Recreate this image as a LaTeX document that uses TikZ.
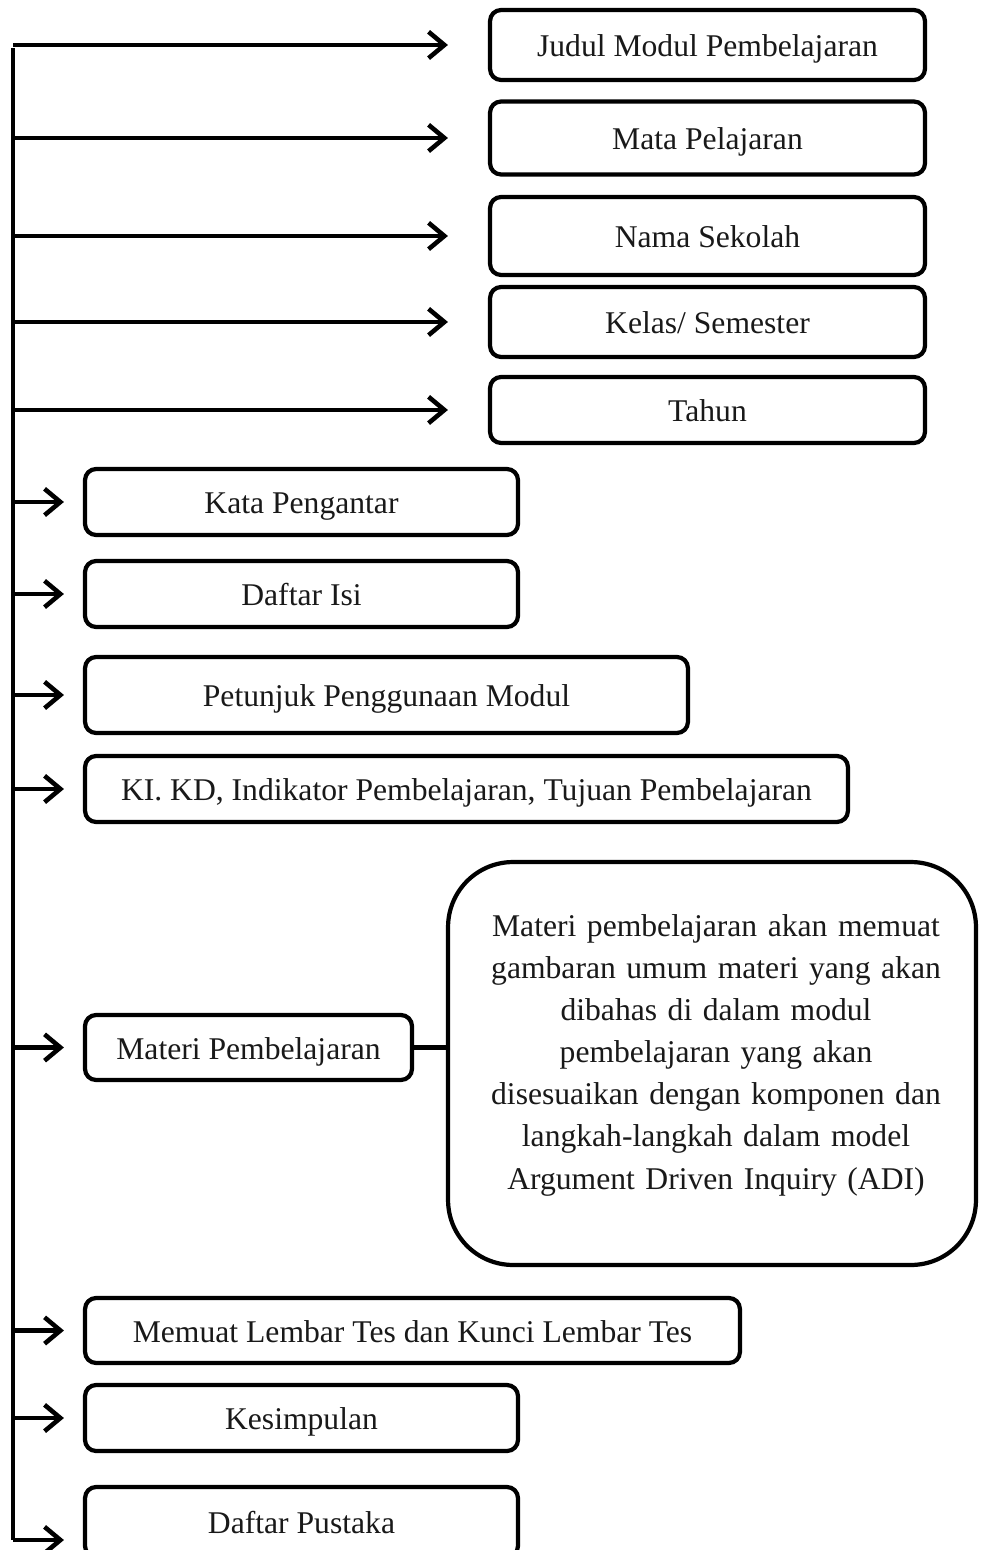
\documentclass[tikz,border=0pt]{standalone}
\usepackage{fontspec}
\setmainfont{Liberation Serif}
\usetikzlibrary{arrows.meta,calc}
\begin{document}
\begin{tikzpicture}[x=0.02cm,y=-0.02cm,
  box/.style={draw=black,line width=2.4pt,rounded corners=0.22cm,fill=white,
    inner sep=0pt,font=\fontsize{18}{22}\selectfont,text=black!90,
    text height=13.6pt,text depth=0pt},
  bigbox/.style={draw=black,line width=2.4pt,rounded corners=1.3cm,fill=white,
    minimum width=10.56cm,minimum height=8.06cm,inner sep=0pt},
  arr/.style={line width=2.8pt,-{Straight Barb[length=9pt,width=15pt,line width=2.6pt]}},
  ln/.style={line width=2.8pt}]
\useasboundingbox (0,0) rectangle (980,1550);
\fill[white] (0,0) rectangle (980,1550);
% right column boxes
\node[box,minimum width=8.7cm,minimum height=1.4cm] (b1) at (707.5,45) {Judul Modul Pembelajaran};
\node[box,minimum width=8.7cm,minimum height=1.46cm] (b2) at (707.5,138) {Mata Pelajaran};
\node[box,minimum width=8.7cm,minimum height=1.56cm] (b3) at (707.5,236) {Nama Sekolah};
\node[box,minimum width=8.7cm,minimum height=1.4cm] (b4) at (707.5,322) {Kelas/ Semester};
\node[box,minimum width=8.7cm,minimum height=1.32cm] (b5) at (707.5,410) {Tahun};
% left column boxes
\node[box,minimum width=8.66cm,minimum height=1.32cm] (k1) at (301.5,502) {Kata Pengantar};
\node[box,minimum width=8.66cm,minimum height=1.32cm] (k2) at (301.5,594) {Daftar Isi};
\node[box,minimum width=12.06cm,minimum height=1.52cm] (k3) at (386.5,695) {Petunjuk Penggunaan Modul};
\node[box,minimum width=15.26cm,minimum height=1.32cm] (k4) at (466.5,789) {KI. KD, Indikator Pembelajaran, Tujuan Pembelajaran};
\node[box,minimum width=6.54cm,minimum height=1.3cm] (k5) at (248.5,1047.5) {Materi Pembelajaran};
\node[box,minimum width=13.1cm,minimum height=1.3cm] (k6) at (412.5,1330.5) {Memuat Lembar Tes dan Kunci Lembar Tes};
\node[box,minimum width=8.66cm,minimum height=1.32cm] (k7) at (301.5,1418) {Kesimpulan};
\node[box,minimum width=8.66cm,minimum height=1.4cm] (k8) at (301.5,1522) {Daftar Pustaka};
% big box
\node[bigbox] (big) at (712,1063.5) {};
\node[align=center,text width=9.6cm,inner sep=0pt,text=black!90,
  font=\fontsize{18}{24}\selectfont] (bigtxt) at (716,1055)
  {Materi pembelajaran akan memuat\\gambaran umum materi yang akan\\dibahas di dalam modul\\pembelajaran yang akan\\disesuaikan dengan komponen dan\\langkah-langkah dalam model\\Argument Driven Inquiry (ADI)};
% spine
\coordinate (top) at (13,48);
\coordinate (bot) at (13,1540);
\draw[ln] (top) -- (bot);
% top arrows
\foreach \n in {b1,b2,b3,b4,b5}
  \draw[arr] (\n.west -| top) -- ([xshift=-0.8cm]\n.west);
% lower arrows
\foreach \n in {k1,k2,k3,k4,k5,k6,k7}
  \draw[arr] (\n.west -| top) -- ([xshift=-0.38cm]\n.west);
\coordinate (k8in) at ([xshift=-0.38cm]k8.west |- bot);
\draw[arr] (bot) -- (k8in);
% connector to big box
\draw[ln] (k5.east) -- (k5.east -| big.west);
\end{tikzpicture}
\end{document}
